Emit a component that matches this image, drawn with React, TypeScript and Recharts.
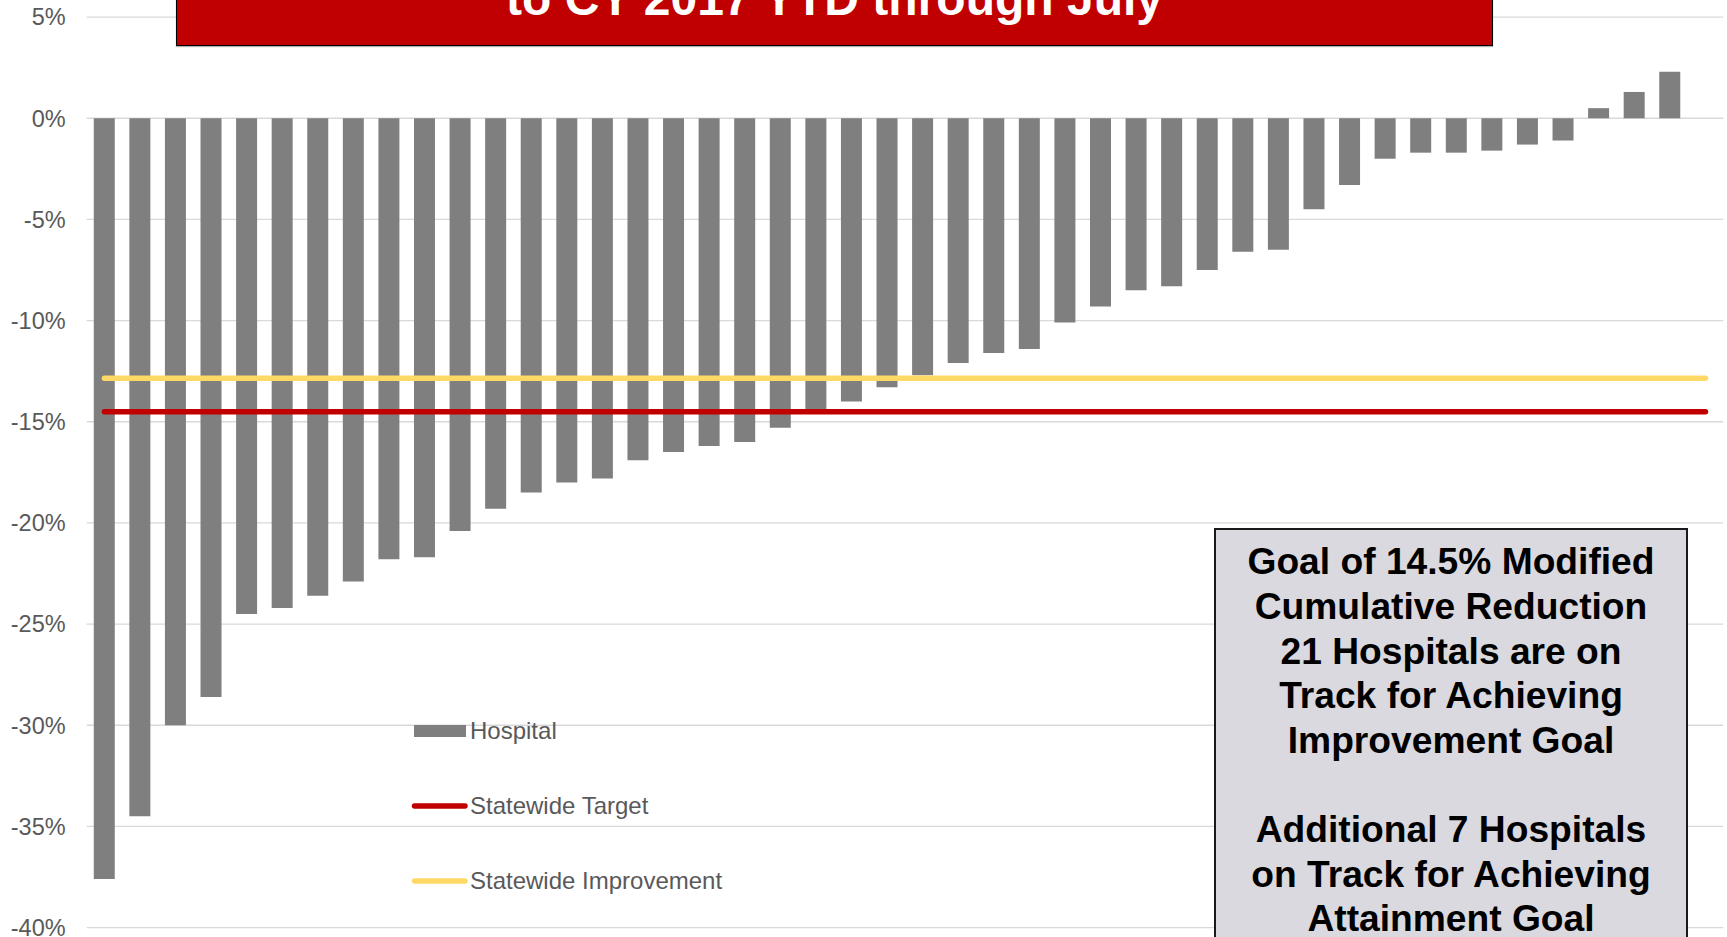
import { ComposedChart, Bar, Line, XAxis, YAxis, CartesianGrid, Legend } from 'recharts';

// Hospitals, ranked from largest reduction to largest increase (last slot has no data)
const hospitals = [
  'H01', 'H02', 'H03', 'H04', 'H05', 'H06', 'H07', 'H08', 'H09', 'H10',
  'H11', 'H12', 'H13', 'H14', 'H15', 'H16', 'H17', 'H18', 'H19', 'H20',
  'H21', 'H22', 'H23', 'H24', 'H25', 'H26', 'H27', 'H28', 'H29', 'H30',
  'H31', 'H32', 'H33', 'H34', 'H35', 'H36', 'H37', 'H38', 'H39', 'H40',
  'H41', 'H42', 'H43', 'H44', 'H45', 'H46',
];

// Percent change per hospital
const hospitalChange = [
  -37.6, -34.5, -30.0, -28.6, -24.5, -24.2, -23.6, -22.9, -21.8, -21.7,
  -20.4, -19.3, -18.5, -18.0, -17.8, -16.9, -16.5, -16.2, -16.0, -15.3,
  -14.4, -14.0, -13.3, -12.7, -12.1, -11.6, -11.4, -10.1, -9.3, -8.5,
  -8.3, -7.5, -6.6, -6.5, -4.5, -3.3, -2.0, -1.7, -1.7, -1.6,
  -1.3, -1.1, 0.5, 1.3, 2.3, null,
];

const statewideTarget = -14.5;
const statewideImprovement = -12.85;

const yTicks = [5, 0, -5, -10, -15, -20, -25, -30, -35, -40];

const titleText = 'to CY 2017 YTD through July';

const noteLines = [
  'Goal of 14.5% Modified',
  'Cumulative Reduction',
  '21 Hospitals are on',
  'Track for Achieving',
  'Improvement Goal',
  '',
  'Additional 7 Hospitals',
  'on Track for Achieving',
  'Attainment Goal',
];

const data = hospitals.map((name, i) => ({
  name,
  change: hospitalChange[i],
  target: statewideTarget,
  improvement: statewideImprovement,
}));

const FONT = '"Liberation Sans", Arial, sans-serif';
const GRAY_BAR = '#7f7f7f';
const RED = '#c00000';
const YELLOW = '#ffd966';
const LABEL = '#595959';

const legendOrder = ['change', 'target', 'improvement'];

function ChartLegend({ payload }: any) {
  const items = [...(payload || [])].sort(
    (a: any, b: any) => legendOrder.indexOf(a.dataKey) - legendOrder.indexOf(b.dataKey)
  );
  return (
    <div style={{ fontFamily: FONT, fontSize: 24, color: LABEL }}>
      {items.map((item: any) => (
        <div key={item.dataKey} style={{ display: 'flex', alignItems: 'center', height: 75 }}>
          <svg width={59} height={14} style={{ display: 'block' }}>
            {item.dataKey === 'change' ? (
              <rect x={4} y={1} width={52} height={12} fill={GRAY_BAR} />
            ) : (
              <line x1={4.5} y1={7} x2={55} y2={7} stroke={item.color} strokeWidth={5.5} strokeLinecap="round" />
            )}
          </svg>
          <span style={{ marginLeft: 1, whiteSpace: 'nowrap' }}>{item.value}</span>
        </div>
      ))}
    </div>
  );
}

export default function App() {
  return (
    <div style={{ position: 'absolute', left: 0, top: 0, width: 1727, height: 937, overflow: 'hidden', background: '#fff' }}>
      <ComposedChart
        width={1727}
        height={937}
        data={data}
        margin={{ top: 17.1, right: 3.7, bottom: 9.4, left: 0 }}
        barCategoryGap="20%"
      >
        <CartesianGrid vertical={false} stroke="#d9d9d9" strokeWidth={1.3} />
        <XAxis dataKey="name" hide />
        <YAxis
          width={86.66}
          domain={[-40, 5]}
          ticks={yTicks}
          interval={0}
          axisLine={false}
          tickLine={false}
          tickSize={0}
          tickMargin={21}
          tickFormatter={(v: number) => `${v}%`}
          tick={{ fill: LABEL, fontSize: 23.5, fontFamily: FONT }}
        />
        <Bar dataKey="change" name="Hospital" fill={GRAY_BAR} isAnimationActive={false} />
        <Line
          type="linear"
          dataKey="improvement"
          name="Statewide Improvement"
          stroke={YELLOW}
          strokeWidth={5.5}
          strokeLinecap="round"
          dot={false}
          activeDot={false}
          isAnimationActive={false}
        />
        <Line
          type="linear"
          dataKey="target"
          name="Statewide Target"
          stroke={RED}
          strokeWidth={5.5}
          strokeLinecap="round"
          dot={false}
          activeDot={false}
          isAnimationActive={false}
        />
        <Legend
          layout="vertical"
          align="center"
          verticalAlign="middle"
          content={<ChartLegend />}
          wrapperStyle={{ position: 'absolute', left: 410, top: 693, width: 320 }}
        />
      </ComposedChart>

      {/* title banner, running off the top edge */}
      <div
        style={{
          position: 'absolute',
          left: 176,
          top: -60,
          width: 1317,
          height: 105.7,
          boxSizing: 'border-box',
          background: RED,
          borderBottom: '1.5px solid #000',
          borderRight: '1.5px solid #000',
          borderLeft: '1.5px solid #000',
          boxShadow: '0 1px 1px rgba(0,0,0,0.3)',
        }}
      >
        <div
          style={{
            position: 'absolute',
            left: 0,
            right: 0,
            top: 60 - 25.4,
            height: 48,
            lineHeight: '48px',
            textAlign: 'center',
            color: '#fff',
            fontFamily: FONT,
            fontWeight: 700,
            fontSize: 48,
            whiteSpace: 'nowrap',
          }}
        >
          {titleText}
        </div>
      </div>

      {/* goal note box */}
      <div
        style={{
          position: 'absolute',
          left: 1214,
          top: 527.7,
          width: 474,
          height: 460,
          boxSizing: 'border-box',
          background: '#d9d9df',
          border: '2px solid #1a1a1a',
          paddingTop: 9.8,
          textAlign: 'center',
          fontFamily: FONT,
          fontWeight: 700,
          fontSize: 37.2,
          lineHeight: '44.6px',
          color: '#000',
        }}
      >
        {noteLines.map((line, i) => (
          <div key={i} style={{ height: 44.6, whiteSpace: 'nowrap' }}>
            {line}
          </div>
        ))}
      </div>
    </div>
  );
}
